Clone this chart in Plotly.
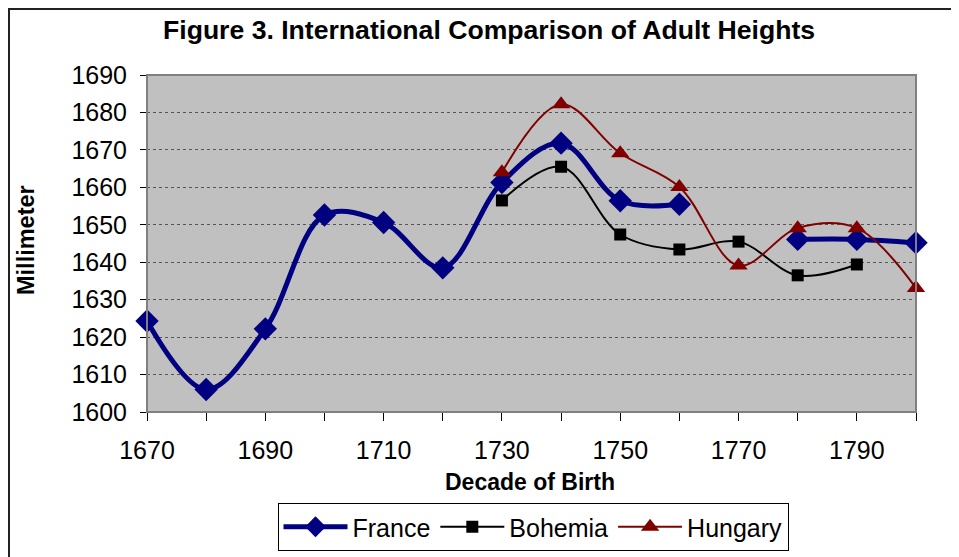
import plotly.graph_objects as go

decades = [1670, 1680, 1690, 1700, 1710, 1720, 1730, 1740, 1750, 1760, 1770, 1780, 1790, 1800]
france = [1624.3, 1606, 1622.2, 1652.6, 1650.6, 1638.5, 1661.3, 1671.8, 1656.4, 1655.5, None, 1646.1, 1646.1, 1645.2]
bohemia = [None, None, None, None, None, None, 1656.5, 1665.5, 1647.4, 1643.4, 1645.5, 1636.5, 1639.4, None]
hungary = [None, None, None, None, None, None, 1664, 1682.2, 1669.1, 1660.1, 1639.1, 1649.1, 1649.1, 1633.1]

x_tickvals = decades
x_ticktext = ["1670", "", "1690", "", "1710", "", "1730", "", "1750", "", "1770", "", "1790", ""]
y_tickvals = [1600, 1610, 1620, 1630, 1640, 1650, 1660, 1670, 1680, 1690]

FONT = "Liberation Sans, Arial, sans-serif"

fig = go.Figure()
fig.add_trace(go.Scatter(x=decades, y=france, name="France", mode="lines+markers",
                         line=dict(color="#000080", width=5, shape="spline", smoothing=1),
                         marker=dict(symbol="diamond", size=18, color="#000080"),
                         connectgaps=False, cliponaxis=False))
fig.add_trace(go.Scatter(x=decades, y=bohemia, name="Bohemia", mode="lines+markers",
                         line=dict(color="#000000", width=2, shape="spline", smoothing=1),
                         marker=dict(symbol="square", size=12, color="#000000"),
                         cliponaxis=False))
fig.add_trace(go.Scatter(x=decades, y=hungary, name="Hungary", mode="lines+markers",
                         line=dict(color="#800000", width=2, shape="spline", smoothing=1),
                         marker=dict(symbol="triangle-up", size=16, color="#800000"),
                         cliponaxis=False))

# page offset of the figure inside the browser window (default body margin)
OFF = 8
L, R, T, B = 147 - OFF, 916 - OFF, 75 - OFF, 412 - OFF
W, H = 959 - OFF, 557 - OFF
pw, ph = R - L, B - T

def px(xw):
    return (xw - OFF - L) / pw

def py(yw):
    return (B - (yw - OFF)) / ph

fig.update_layout(
    width=W, height=H,
    margin=dict(l=L, r=W - R, t=T, b=H - B, pad=0, autoexpand=False),
    paper_bgcolor="white",
    plot_bgcolor="#C0C0C0",
    font=dict(family=FONT, color="black", size=24),
    showlegend=True,
    legend=dict(orientation="h", x=px(533), y=py(503), xanchor="center", yanchor="top",
                bordercolor="black", borderwidth=1, bgcolor="white",
                font=dict(size=25, family=FONT), itemwidth=64,
                tracegroupgap=0),
    xaxis=dict(range=[1670, 1800], tickvals=x_tickvals, ticktext=x_ticktext,
               ticks="outside", ticklen=8, tickcolor="black", tickwidth=1,
               showline=True, linecolor="black", linewidth=1,
               showgrid=False, zeroline=False, automargin=False,
               ticklabelstandoff=8,
               tickfont=dict(size=25, family=FONT)),
    yaxis=dict(range=[1600, 1690], tickvals=y_tickvals,
               ticks="outside", ticklen=6, tickcolor="black", tickwidth=1,
               showline=True, linecolor="black", linewidth=1,
               showgrid=True, gridcolor="#555555", gridwidth=1, griddash="dot",
               zeroline=False, automargin=False,
               ticklabelstandoff=8,
               tickfont=dict(size=25, family=FONT)),
    annotations=[
        dict(text="<b>Figure 3. International Comparison of Adult Heights</b>",
             xref="paper", yref="paper", x=px(489), y=py(30), xanchor="center", yanchor="middle",
             showarrow=False, font=dict(size=26.6, family=FONT)),
        dict(text="<b>Decade of Birth</b>",
             xref="paper", yref="paper", x=px(530), y=py(482), xanchor="center", yanchor="middle",
             showarrow=False, font=dict(size=23, family=FONT)),
        dict(text="<b>Millimeter</b>", textangle=-90,
             xref="paper", yref="paper", x=px(26), y=py(240), xanchor="center", yanchor="middle",
             showarrow=False, font=dict(size=23.5, family=FONT)),
    ],
    shapes=[
        dict(type="rect", xref="paper", yref="paper", x0=0, x1=1, y0=0, y1=1,
             line=dict(color="#808080", width=2), fillcolor="rgba(0,0,0,0)", layer="above"),
        dict(type="rect", xref="paper", yref="paper", x0=px(9), x1=px(975), y0=py(575), y1=py(9),
             line=dict(color="#222222", width=2), fillcolor="rgba(0,0,0,0)"),
    ],
)

fig.write_html("out.html")
